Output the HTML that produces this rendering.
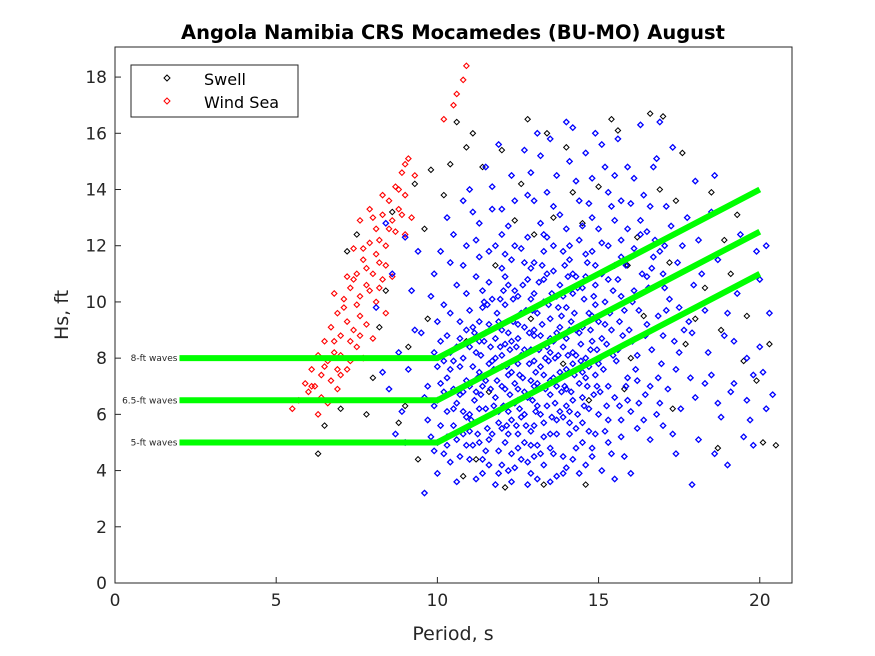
<!DOCTYPE html>
<html><head><meta charset="utf-8">
<style>
html,body{margin:0;padding:0;background:#fff;}
svg{display:block;font-family:"DejaVu Sans","Liberation Sans",sans-serif;}
</style></head>
<body>
<svg id="chart" width="875" height="656" viewBox="0 0 875 656">
<rect x="0" y="0" width="875" height="656" fill="#fff"/>
<text x="453" y="39" text-anchor="middle" font-size="19.5" font-weight="bold" fill="#000">Angola Namibia CRS Mocamedes (BU-MO) August</text>
<rect x="115" y="47" width="677" height="536" fill="#fff" stroke="#262626" stroke-width="1"/>
<g id="marks"></g>
<g id="axes"></g>
<text x="453" y="640" text-anchor="middle" font-size="19" fill="#262626">Period, s</text>
<text transform="translate(68,315) rotate(-90)" text-anchor="middle" font-size="19" fill="#262626">Hs, ft</text>
<g>
<rect x="131" y="65" width="167" height="52" fill="#fff" stroke="#262626" stroke-width="1"/>
<path d="M167 75 l3 3 l-3 3 l-3 -3z" fill="none" stroke="#000"/>
<text x="204" y="85" font-size="16" fill="#000">Swell</text>
<path d="M167 98 l3 3 l-3 3 l-3 -3z" fill="none" stroke="#f00"/>
<text x="204" y="108" font-size="16" fill="#000">Wind Sea</text>
</g>
</svg>
<script>
const xTicks=[0,5,10,15,20];
const yTicks=[0,2,4,6,8,10,12,14,16,18];
// blue swell partition points [period, Hs]
const bluePts=[
[9.6,3.2],[9.8,5.2],[9.9,6.3],[10.0,3.9],[10.1,7.1],[10.2,4.6],[10.3,8.8],[10.4,9.6],[10.5,5.6],[10.5,12.4],[10.6,3.6],[10.7,7.7],[10.8,6.1],[10.9,10.3],[10.9,4.9],
[11.0,8.4],[11.0,5.4],[11.1,9.1],[11.1,13.2],[11.2,6.8],[11.2,3.7],[11.3,11.6],[11.3,7.5],[11.4,4.4],[11.4,9.8],[11.5,6.2],[11.5,8.9],[11.6,5.1],[11.6,10.7],[11.7,7.9],[11.7,14.1],[11.8,6.6],[11.8,3.5],[11.9,9.3],[11.9,5.7],
[12.0,8.1],[12.0,11.2],[12.0,4.2],[12.1,6.9],[12.1,9.9],[12.2,7.4],[12.2,5.3],[12.2,12.7],[12.3,8.6],[12.3,3.6],[12.4,10.4],[12.4,6.4],[12.5,7.8],[12.5,4.8],[12.5,9.2],[12.6,11.9],[12.6,5.9],[12.7,8.3],[12.7,6.8],[12.8,13.8],[12.8,4.3],[12.9,10.1],[12.9,7.2],
[13.0,5.6],[13.0,8.8],[13.0,11.4],[13.1,6.3],[13.1,9.6],[13.2,7.7],[13.2,4.6],[13.2,15.2],[13.3,10.8],[13.3,5.2],[13.4,8.4],[13.4,12.3],[13.5,6.7],[13.5,3.6],[13.5,9.4],[13.6,7.3],[13.6,11.1],[13.7,5.8],[13.7,8.9],[13.8,13.1],[13.8,6.1],[13.9,10.2],[13.9,4.5],
[14.0,7.6],[14.0,9.8],[14.0,16.4],[14.1,5.3],[14.1,12.0],[14.2,8.2],[14.2,6.5],[14.3,10.9],[14.3,14.3],[14.4,7.1],[14.4,3.9],[14.5,9.1],[14.5,5.7],[14.6,11.7],[14.6,8.0],[14.7,6.2],[14.7,13.5],[14.8,9.5],[14.8,4.8],[14.9,7.4],[14.9,10.6],
[15.0,6.0],[15.0,12.6],[15.1,8.7],[15.1,15.6],[15.2,5.4],[15.2,10.0],[15.3,7.0],[15.3,13.9],[15.4,9.0],[15.4,4.6],[15.5,11.3],[15.5,6.6],[15.6,8.3],[15.7,12.2],[15.7,5.2],[15.8,9.7],[15.9,7.3],[15.9,14.8],
[16.0,6.1],[16.1,10.4],[16.2,8.1],[16.3,12.9],[16.3,16.3],[16.4,5.8],[16.5,9.2],[16.6,7.0],[16.7,11.6],[16.8,15.1],[16.9,6.4],[17.0,8.8],[17.1,13.4],[17.2,10.1],[17.3,5.3],[17.4,7.6],[17.6,12.0],[17.8,9.3],[17.9,3.5],[18.0,6.6],
[18.2,11.0],[18.4,8.2],[18.6,14.5],[18.8,5.9],[19.0,9.6],[19.2,7.1],[19.4,12.4],[19.6,6.5],[19.8,4.9],[20.0,8.4],[20.2,6.2],[20.4,6.7],[20.0,10.8],[19.5,5.2],
[11.0,7.0],[11.5,7.2],[12.0,7.0],[12.5,6.9],[13.0,7.0],[13.5,7.2],[14.0,6.9],[12.0,9.0],[12.5,8.7],[13.0,9.0],[13.5,8.2],[14.0,8.7],[12.2,10.6],[12.8,10.8],[13.3,10.0],[11.8,8.0],[12.7,5.0],[13.2,6.0],[13.8,7.5],[14.3,9.0],[11.3,6.2],[11.6,9.2],[12.3,11.5],[13.6,12.0],[14.2,11.0],[14.8,11.8],[15.2,9.2],[15.6,10.8],[15.0,7.8],[14.5,5.0],[12.9,3.9],[11.9,4.7],
[10.2,6.8],[10.6,8.4],[10.8,11.3],[11.2,12.2],[11.7,13.3],[12.4,13.6],[12.9,14.6],[13.5,15.8],[14.1,15.0],[14.9,16.0],[15.5,14.5],[16.0,13.5],[16.5,12.5],[17.0,11.0],[17.5,9.8],[16.2,7.2],[16.8,6.0],[15.8,4.5],[10.4,7.6],[10.9,9.0],[11.4,10.4],[9.9,8.2],[9.7,7.0],[10.3,5.2]
];
// additional hand-read blue points (period,Hs pairs), densest core region
const bluePtsCore="11.05,5.8 11.15,6.5 11.25,7.3 11.35,8.1 11.45,8.6 11.55,5.5 11.65,6.9 11.75,7.6 11.85,9.6 11.95,10.1 11.1,4.9 11.3,5.0 11.5,4.7 11.7,5.3 11.9,6.1 12.05,6.3 12.15,7.7 12.25,8.3 12.35,9.3 12.45,5.6 12.55,6.2 12.65,7.3 12.75,9.7 12.85,8.9 12.95,6.5 12.1,5.0 12.3,4.6 12.5,5.3 12.7,6.0 12.9,5.4 13.05,7.5 13.15,8.3 13.25,9.2 13.35,6.9 13.45,7.9 13.55,10.3 13.65,6.4 13.75,8.1 13.85,9.5 13.95,7.0 13.1,4.9 13.3,5.7 13.5,4.8 13.7,5.3 13.9,5.9 14.05,8.1 14.15,9.3 14.25,7.4 14.35,6.0 14.45,8.5 14.55,10.1 14.65,7.0 14.75,9.0 14.85,6.7 14.95,8.3 14.1,6.1 14.3,5.5 14.5,6.6 14.7,7.7 14.9,5.3 12.2,8.9 12.6,9.6 13.0,10.3 13.4,11.0 13.8,10.6 14.2,10.3 14.6,10.9 12.4,12.0 12.8,12.3 13.2,12.8 13.6,13.4 14.0,12.6 14.4,12.2 14.8,13.0 11.6,11.8 12.0,12.4 11.2,10.9 11.0,9.7 10.7,9.3 10.8,8.0 10.5,6.9 10.6,6.4 10.3,6.1 10.1,5.6 10.4,4.3 10.7,4.5 10.9,5.9 11.4,3.9 11.9,3.9 12.4,4.1 12.8,3.5 13.3,4.2 13.7,3.8 14.2,4.4 14.6,4.2 15.1,4.0 15.05,6.8 15.15,7.6 15.25,8.5 15.35,9.6 15.45,10.4 15.55,7.9 15.65,6.3 15.75,8.8 15.85,11.3 15.95,9.0 15.1,11.0 15.3,12.0 15.5,12.9 15.7,13.6 15.9,12.6 16.05,8.6 16.15,7.6 16.25,9.7 16.35,11.0 16.45,6.7 16.55,10.5 16.65,8.3 16.75,12.2 16.85,9.5 16.95,7.8 16.1,14.4 16.4,13.8 16.7,14.8 17.05,10.5 17.15,6.9 17.25,12.7 17.35,8.6 17.45,11.4 17.55,6.2 17.65,9.0 17.75,13.0 17.85,7.3 17.95,10.6 18.1,12.2 18.3,9.7 18.5,7.4 18.7,11.5 18.9,8.8 19.1,6.8 19.3,10.3 19.6,8.0 19.9,11.8 20.3,9.6 18.1,5.1 18.6,4.6 19.0,4.2 19.7,5.8 20.1,7.5 12.3,14.5 12.7,15.4 13.1,16.0 13.7,14.5 14.2,16.2 14.6,15.3 15.2,14.8 15.6,15.8 11.5,14.8 11.0,14.0 11.9,15.6 12.0,13.3 13.0,13.6 14.4,13.6 10.6,10.6 10.4,11.4 10.0,9.3 9.8,10.2 9.7,5.8 9.9,4.7 10.1,8.6 9.5,8.9 9.6,6.6 8.7,5.3 8.5,6.9 8.9,6.1 9.1,7.6 9.3,9.0 9.2,10.4 8.8,8.2 8.3,7.5 9.0,5.0 8.1,9.8 8.6,11.0 9.4,11.8 9.0,12.3 8.4,12.8 11.2,8.2 11.4,7.0 11.6,7.8 11.8,8.7 12.0,7.7 12.2,6.1 12.4,7.1 12.6,8.1 12.8,6.6 13.0,7.9 13.2,8.8 13.4,6.3 13.6,8.6 13.8,9.1 14.0,6.3 14.2,7.8 14.4,8.9 14.6,7.3 14.8,8.6 15.0,9.3 12.1,8.5 12.3,7.5 12.5,6.5 12.7,9.1 12.9,8.3 13.1,7.1 13.3,7.4 13.5,8.7 13.7,7.0 13.9,8.4 14.1,9.0 14.3,8.1 14.5,7.5 14.7,9.6 14.9,9.9 11.3,9.3 11.7,10.1 12.1,10.9 12.5,10.2 12.9,11.2 13.3,11.8 13.7,10.2 14.1,11.5 14.5,10.5 14.9,11.3 15.3,10.8 15.7,10.2 16.1,11.9 16.5,10.9 16.9,11.8 13.0,4.5 12.6,4.4 12.2,4.0 13.6,4.6 14.0,4.1 14.8,4.5 15.3,5.0 15.7,5.8 16.2,5.5 16.6,5.1 17.0,5.6 17.4,4.6 15.5,3.7 16.0,3.9 10.9,7.2 10.7,6.7 10.5,7.9 10.3,7.3 10.2,9.9 10.0,7.7 10.6,5.1 10.8,5.3 11.0,6.0 11.1,7.7 17.1,9.7 17.5,8.2 17.9,8.9 18.3,7.1 18.7,6.4 19.2,8.6 19.8,7.4 20.2,12.0 18.5,13.2 18.0,14.3 17.3,15.5 16.9,16.4 11.3,12.8 10.9,12.0 10.8,13.6 10.3,13.0 10.1,11.8 9.9,11.0";
// second batch of hand-read blue points in the dense core
const bluePtsCore2="11.15,8.9 11.35,6.7 11.55,9.9 11.75,6.3 11.95,8.4 12.15,5.6 12.35,10.1 12.55,7.4 12.75,5.6 12.95,9.7 13.15,10.7 13.35,8.0 13.55,5.9 13.75,9.8 13.95,11.3 14.15,6.8 14.35,10.5 14.55,6.3 14.75,8.3 14.95,7.0 11.25,5.3 11.45,10.0 11.65,8.4 11.85,7.2 12.05,10.4 12.25,6.7 12.45,8.4 12.65,10.6 12.85,7.8 13.05,6.1 13.25,11.3 13.45,9.9 13.65,8.0 13.85,6.8 14.05,10.9 14.25,9.6 14.45,7.9 14.65,11.4 14.85,10.2 15.05,8.0 15.25,6.3 15.45,8.1 15.65,9.3 15.85,7.0 16.05,10.0 16.25,6.4 16.45,8.8 16.65,11.2 16.85,7.3 17.05,12.0 12.1,11.7 12.7,11.4 13.3,12.4 13.9,11.8 14.5,12.7 15.1,12.1 15.7,11.6 16.3,12.4 11.8,12.0 13.4,13.9 14.8,14.4 15.4,13.4 16.6,13.4 12.3,5.8 12.9,4.9 13.5,5.3 14.1,5.7 14.7,5.4 15.3,5.8 15.9,6.5 11.6,4.2 12.0,5.5 13.1,3.7 13.9,3.9 14.3,4.8 11.3,8.6 10.7,8.7 10.4,8.2 10.2,7.9 10.0,6.5 10.5,6.2 10.8,6.8 11.0,4.4 10.3,4.9 10.0,5.0";
// black swell points
const blackPts=[
[6.3,4.6],[6.5,5.6],[7.2,11.8],[7.5,12.4],[8.6,13.2],[9.3,14.2],[9.8,14.7],[10.2,13.8],[10.6,16.4],[10.9,15.5],[11.4,14.8],[12.0,15.4],[12.6,14.2],[13.4,16.0],[15.4,16.5],[16.6,16.7],[17.0,16.6],[17.6,15.3],[18.5,13.9],[18.9,12.2],[19.1,11.0],[19.6,9.5],[19.9,7.2],[20.3,8.5],[20.5,4.9],[20.1,5.0],[18.7,4.8],[17.3,6.2],[16.4,9.5],[14.6,3.5],[13.3,3.5],[12.1,3.4],[10.8,3.8],[8.8,5.7],[9.4,4.4],[15.9,11.3],[14.5,12.8],[13.0,12.4],[11.8,11.3],[17.7,8.5],[18.3,10.5],[16.9,14.0],[11.2,4.4],[9.0,6.3],[8.2,9.1],
[12.4,12.9],[13.6,13.0],[14.2,13.9],[15.0,14.1],[16.2,12.3],[17.2,11.4],[18.0,9.4],[18.8,9.0],[19.3,13.1],[19.5,7.9],[12.9,9.4],[13.9,7.8],[14.7,6.5],[15.8,6.9],[11.6,6.8],[10.9,8.6],[9.7,9.4],[9.1,8.4],[8.0,7.3],[7.8,6.0],[7.0,6.2],[8.4,10.4],[9.6,12.6],[10.4,14.9],[11.1,16.0],[16.0,8.0],[17.4,13.6],[15.6,16.1],[14.0,15.5],[12.8,16.5]
];
// red wind sea points
const redPts=[
[5.5,6.2],[5.7,6.5],[5.9,7.1],[6.0,6.8],[6.1,7.6],[6.2,7.0],[6.3,8.1],[6.4,7.4],[6.5,8.6],[6.6,7.9],[6.7,9.1],[6.8,8.2],[6.9,9.6],[7.0,8.8],[7.1,10.1],[7.2,9.3],[7.3,10.5],[7.4,9.0],[7.5,11.0],[7.6,10.2],[7.7,11.5],[7.8,10.6],[7.9,12.1],[8.0,11.0],[8.1,12.6],[8.2,11.4],[8.3,13.1],[8.4,12.0],[8.5,13.6],[8.6,12.9],[8.7,14.1],[8.8,13.3],[8.9,14.6],[9.0,13.8],[9.1,15.1],[9.3,14.5],
[6.6,6.4],[6.9,6.9],[7.2,7.6],[7.5,8.4],[7.8,9.2],[8.1,10.0],[8.3,10.8],[7.0,7.4],[7.7,8.0],[8.4,9.6],[6.3,6.0],[7.4,11.9],[7.9,13.3],[8.6,10.9],[9.0,12.4],[10.6,17.4],[10.8,17.9],[10.9,18.4],[10.5,17.0],[10.2,16.5],[7.6,12.9],[6.8,10.3],[8.0,8.7],
[6.1,7.0],[6.4,6.6],[6.7,7.2],[7.0,8.1],[7.3,8.6],[7.6,9.5],[7.9,10.4],[8.2,12.2],[8.5,12.6],[8.8,14.0],[7.1,9.8],[7.4,10.8],[7.7,11.9],[8.0,13.0],[8.3,13.8],[6.5,7.7],[6.8,8.6],[7.2,10.9],[7.5,9.9],[7.8,11.2],[8.1,11.7],[8.4,11.3],[8.7,12.5],[9.0,14.9],[9.2,13.0],[7.3,7.9],[6.9,7.6],[7.6,8.8],[8.2,10.5],[8.9,13.1]
];
const x0=115,x1=792,xmin=0,xmax=21,y0=583,y1=47,ymin=0,ymax=19.07;
const xs=v=>x0+(v-xmin)/(xmax-xmin)*(x1-x0);
const ys=v=>y0-(v-ymin)/(ymax-ymin)*(y0-y1);
const NS='http://www.w3.org/2000/svg';
const marks=document.getElementById('marks');
function drawSeries(pts,color,name,sw){
  const g=document.createElementNS(NS,'g');
  
  
  pts.forEach(p=>{
    const d=document.createElementNS(NS,'path');
    const cx=xs(p[0]),cy=ys(p[1]);
    d.setAttribute('d',`M${cx} ${cy-2.7}l2.7 2.7l-2.7 2.7l-2.7 -2.7z`);
    d.setAttribute('fill','none');d.setAttribute('stroke',color);d.setAttribute('stroke-width',sw);
    
    
    g.appendChild(d);
  });
  marks.appendChild(g);
}
const parsePts=s=>s.split(' ').map(q=>q.split(',').map(Number));
drawSeries(blackPts,'#000','swell','1');
drawSeries(redPts,'#f00','wind-sea','1.1');
drawSeries(bluePts.concat(parsePts(bluePtsCore),parsePts(bluePtsCore2)),'#00f','swell-blue','1.3');
// threshold lines
const lineLabels=['8-ft waves','6.5-ft waves','5-ft waves'];
const lineStartX=[2,2,2];
const lineKneeX=[10,10,10];
const lineEndX=[20,20,20];
const lineBaseHs=[8,6.5,5];
const lineEndHs=[14,12.5,11];
lineBaseHs.forEach((b,i)=>{
  const pl=document.createElementNS(NS,'polyline');
  pl.setAttribute('points',`${xs(lineStartX[i])},${ys(b)} ${xs(lineKneeX[i])},${ys(b)} ${xs(lineEndX[i])},${ys(lineEndHs[i])}`);
  pl.setAttribute('fill','none');pl.setAttribute('stroke','#00ff00');pl.setAttribute('stroke-width','6');
  
  
  marks.appendChild(pl);
  const t=document.createElementNS(NS,'text');
  t.setAttribute('x',xs(lineStartX[i])-2);t.setAttribute('y',ys(b)+3);
  t.setAttribute('text-anchor','end');t.setAttribute('font-size','9');t.setAttribute('fill','#262626');
  t.textContent=lineLabels[i];
  
  
  marks.appendChild(t);
});
const axes=document.getElementById('axes');
xTicks.forEach(v=>{
  const l=document.createElementNS(NS,'line');
  l.setAttribute('x1',xs(v));l.setAttribute('x2',xs(v));l.setAttribute('y1',y0);l.setAttribute('y2',y0-6);
  l.setAttribute('stroke','#262626');
  
  
  axes.appendChild(l);
  const t=document.createElementNS(NS,'text');
  t.setAttribute('x',xs(v));t.setAttribute('y',y0+23);t.setAttribute('text-anchor','middle');
  t.setAttribute('font-size','17');t.setAttribute('fill','#262626');t.textContent=v;
  
  
  axes.appendChild(t);
});
yTicks.forEach(v=>{
  const l=document.createElementNS(NS,'line');
  l.setAttribute('x1',x0);l.setAttribute('x2',x0+6);l.setAttribute('y1',ys(v));l.setAttribute('y2',ys(v));
  l.setAttribute('stroke','#262626');
  
  
  axes.appendChild(l);
  const t=document.createElementNS(NS,'text');
  t.setAttribute('x',x0-8);t.setAttribute('y',ys(v)+6);t.setAttribute('text-anchor','end');
  t.setAttribute('font-size','17');t.setAttribute('fill','#262626');t.textContent=v;
  
  
  axes.appendChild(t);
});
</script>
</body></html>
